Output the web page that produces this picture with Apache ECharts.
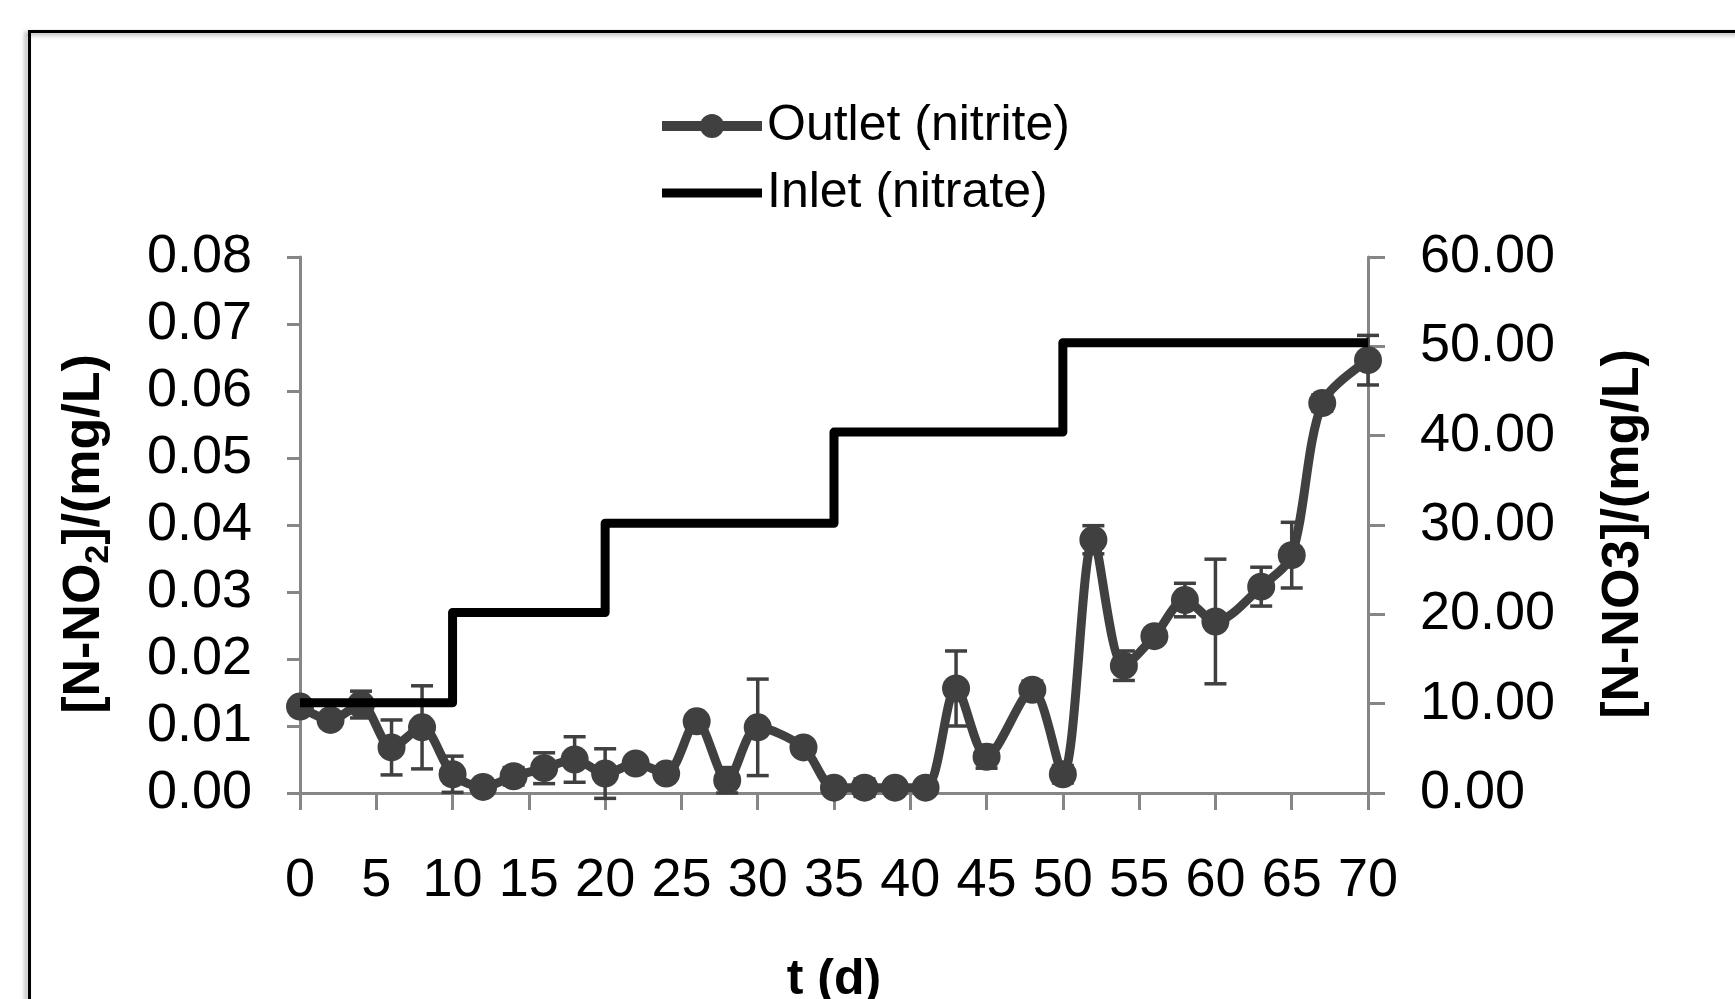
<!DOCTYPE html>
<html>
<head>
<meta charset="utf-8">
<script src="https://cdn.jsdelivr.net/npm/echarts@6/dist/echarts.min.js"></script>
<style>
html,body{margin:0;padding:0;background:#fff;}
#chart{width:1735px;height:999px;}
</style>
</head>
<body>
<div id="chart"></div>
<script>
// ---- data ----
var outletDays   = [0, 2, 4, 6, 8, 10, 12, 14, 16, 18, 20, 22, 24, 26, 28, 30, 33, 35, 37, 39, 41, 43, 45, 48, 50, 52, 54, 56, 58, 60, 63, 65, 67, 70];
var outletValues = [0.0129, 0.0109, 0.0132, 0.0068, 0.0098, 0.0028, 0.0009, 0.0025, 0.0037, 0.0050, 0.0029, 0.0044, 0.0029, 0.0107, 0.0019, 0.0098, 0.0068, 0.0008, 0.0008, 0.0008, 0.0008, 0.0156, 0.0054, 0.0154, 0.0028, 0.0378, 0.0190, 0.0234, 0.0288, 0.0256, 0.0308, 0.0355, 0.0582, 0.0646];
var outletErrors = [0.0005, 0.0005, 0.0020, 0.0041, 0.0062, 0.0027, 0.0003, 0.0013, 0.0023, 0.0034, 0.0037, 0.0005, 0.0003, 0.0005, 0.0019, 0.0072, 0.0005, 0.0003, 0.0013, 0.0003, 0.0003, 0.0056, 0.0017, 0.0013, 0.0013, 0.0021, 0.0022, 0.0005, 0.0025, 0.0093, 0.0029, 0.0049, 0.0012, 0.0037];
var inletDays    = [0, 10, 20, 35, 50, 70];
var inletValues  = [10.1, 20.2, 30.2, 40.4, 50.4, 50.4];
var seriesNames  = ['Outlet (nitrite)', 'Inlet (nitrate)'];
var xTitle = 't (d)';
var yLeftTitle = '{a|[N-NO}{s|2}{a|]/(mg/L)}';
var yRightTitle = '[N-NO3]/(mg/L)';

var FONT = "'Liberation Sans', Arial, sans-serif";
var AXIS_COLOR = '#868686';
var SERIES_COLOR = '#404040';

var outletData = outletDays.map(function (d, i) { return [d, outletValues[i]]; });
var errorData  = outletDays.map(function (d, i) { return [d, outletValues[i], outletErrors[i]]; });
var inletData  = inletDays.map(function (d, i) { return [d, inletValues[i]]; });

var chart = echarts.init(document.getElementById('chart'), null, {renderer: 'canvas'});

var option = {
  backgroundColor: '#ffffff',
  animation: false,
  textStyle: {fontFamily: FONT},
  graphic: [{
    type: 'rect',
    silent: true,
    z: -10,
    shape: {x: 29.5, y: 31.5, width: 1800, height: 1100},
    style: {fill: 'none', stroke: '#000', lineWidth: 3,
            shadowBlur: 4, shadowColor: 'rgba(0,0,0,0.35)', shadowOffsetX: -3, shadowOffsetY: 2}
  }],
  legend: {
    data: [
      {name: seriesNames[0], itemStyle: {color: SERIES_COLOR}, lineStyle: {color: SERIES_COLOR, width: 10}},
      {name: seriesNames[1], icon: 'path://M0,0H100V9H0Z', itemStyle: {color: '#000'}}
    ],
    orient: 'vertical',
    left: 657,
    top: 101,
    padding: 0,
    itemWidth: 100,
    itemHeight: 30,
    itemGap: 17,
    textStyle: {fontSize: 50, color: '#000', fontFamily: FONT}
  },
  grid: {left: 300, right: 367, top: 257, bottom: 206, containLabel: false, outerBoundsMode: 'none'},
  xAxis: {
    type: 'value',
    min: 0, max: 70, interval: 5,
    name: xTitle,
    nameLocation: 'middle',
    nameGap: 162,
    nameTextStyle: {fontSize: 50, fontWeight: 'bold', color: '#000', fontFamily: FONT},
    axisLine: {onZero: false, lineStyle: {color: AXIS_COLOR, width: 3}},
    axisTick: {length: 17, lineStyle: {color: AXIS_COLOR, width: 3}},
    axisLabel: {fontSize: 54, color: '#000', margin: 61, fontFamily: FONT},
    splitLine: {show: false}
  },
  yAxis: [{
    type: 'value',
    min: 0, max: 0.08, interval: 0.01,
    position: 'left',
    name: yLeftTitle,
    nameLocation: 'middle',
    nameRotate: 90,
    nameGap: 184,
    nameTextStyle: {
      color: '#000',
      padding: [0, 18, 0, 0],
      rich: {
        a: {fontSize: 52, fontWeight: 'bold', color: '#000', fontFamily: FONT, lineHeight: 62},
        s: {fontSize: 34, fontWeight: 'bold', color: '#000', fontFamily: FONT, verticalAlign: 'bottom', lineHeight: 34}
      }
    },
    axisLine: {show: true, lineStyle: {color: AXIS_COLOR, width: 3}},
    axisTick: {show: true, length: 13, lineStyle: {color: AXIS_COLOR, width: 3}},
    axisLabel: {fontSize: 54, color: '#000', margin: 48, fontFamily: FONT,
                formatter: function (v) { return v.toFixed(2); }},
    splitLine: {show: false}
  }, {
    type: 'value',
    min: 0, max: 60, interval: 10,
    position: 'right',
    name: yRightTitle,
    nameLocation: 'middle',
    nameRotate: 90,
    nameGap: 230,
    nameTextStyle: {fontSize: 52, fontWeight: 'bold', color: '#000', fontFamily: FONT, padding: [0, 18, 0, 0]},
    axisLine: {show: true, lineStyle: {color: AXIS_COLOR, width: 3}},
    axisTick: {show: true, length: 17, lineStyle: {color: AXIS_COLOR, width: 3}},
    axisLabel: {fontSize: 54, color: '#000', margin: 52, fontFamily: FONT,
                formatter: function (v) { return v.toFixed(2); }},
    splitLine: {show: false}
  }],
  series: [{
    name: seriesNames[0],
    type: 'line',
    yAxisIndex: 0,
    data: outletData,
    smooth: 0.3,
    symbol: 'circle',
    symbolSize: 28,
    showAllSymbol: true,
    z: 3,
    itemStyle: {color: SERIES_COLOR},
    lineStyle: {color: SERIES_COLOR, width: 9}
  }, {
    name: seriesNames[1],
    type: 'line',
    yAxisIndex: 1,
    data: inletData,
    step: 'end',
    symbol: 'none',
    z: 4,
    itemStyle: {color: '#000'},
    lineStyle: {color: '#000', width: 9, join: 'round'}
  }, {
    name: 'errors',
    type: 'custom',
    yAxisIndex: 0,
    data: errorData,
    z: 2,
    silent: true,
    encode: {x: 0, y: 1},
    renderItem: function (params, api) {
      var x = api.value(0), y = api.value(1), e = api.value(2);
      var hi = api.coord([x, y + e]);
      var lo = api.coord([x, y - e]);
      var w = 11;
      var st = {stroke: SERIES_COLOR, lineWidth: 3.5};
      return {
        type: 'group',
        children: [
          {type: 'line', shape: {x1: hi[0], y1: hi[1], x2: lo[0], y2: lo[1]}, style: st},
          {type: 'line', shape: {x1: hi[0] - w, y1: hi[1], x2: hi[0] + w, y2: hi[1]}, style: st},
          {type: 'line', shape: {x1: lo[0] - w, y1: lo[1], x2: lo[0] + w, y2: lo[1]}, style: st}
        ]
      };
    }
  }]
};
chart.setOption(option);
</script>
</body>
</html>
